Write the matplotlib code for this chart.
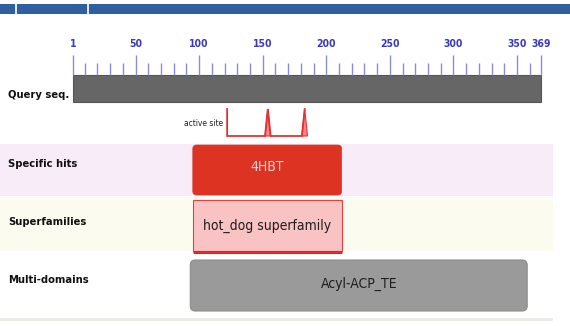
import matplotlib
matplotlib.use("Agg")
import matplotlib.pyplot as plt
from matplotlib.patches import FancyBboxPatch, Rectangle, Polygon
from matplotlib import font_manager
from matplotlib.font_manager import FontProperties

# ---------------- data ----------------
seq_length = 369
major_ticks = [1, 50, 100, 150, 200, 250, 300, 350, 369]
minor_step = 10
row_labels = ["Query seq.", "Specific hits", "Superfamilies", "Multi-domains"]
active_site_residues = [122, 154, 183]
specific_hit_name = "4HBT"
specific_hit_range = [95, 212]
superfamily_name = "hot_dog superfamily"
superfamily_range = [95, 212]
multidomain_name = "Acyl-ACP_TE"
multidomain_range = [93, 358]

# ---------------- font: look for a narrow / condensed face ----------------
def find_font(bold):
    cands = []
    for f in font_manager.fontManager.ttflist:
        path = f.fname.lower()
        name = f.name.lower()
        narrow = ("narrow" in path or "condensed" in path or "narrow" in name
                  or "condensed" in name or str(f.stretch).lower() in ("condensed", "semi-condensed"))
        if not narrow or "oblique" in path or "italic" in path:
            continue
        isbold = "bold" in path or (isinstance(f.weight, int) and f.weight >= 600) or f.weight == "bold"
        if isbold != bold:
            continue
        score = 0
        if "dejavusanscondensed" in path.replace("-", ""):
            score = 3
        if "liberationsansnarrow" in path.replace("-", ""):
            score = 4
        if "mono" in path:
            score -= 5
        cands.append((score, f.fname))
    if cands:
        cands.sort(reverse=True)
        return FontProperties(fname=cands[0][1])
    fp = FontProperties(family="DejaVu Sans")
    if bold:
        fp.set_weight("bold")
    return fp

FP_REG = find_font(False)
FP_BOLD = find_font(True)

def fp(base, size):
    p = base.copy()
    p.set_size(size)
    return p

fig = plt.figure(figsize=(5.70, 3.26), dpi=100)
ax = fig.add_axes([0, 0, 1, 1])
px_per_res = 1.2714
x0_px = 72.03
ax.set_xlim(-x0_px / px_per_res, (570 - x0_px) / px_per_res)
ax.set_ylim(326, 0)
ax.axis("off")

trans_band = ax.get_yaxis_transform()  # x in axes fraction, y in data

# top blue bar
ax.add_patch(Rectangle((0, 4), 1, 10, transform=trans_band, color="#2f5f9f", lw=0))
for gx in [15 / 570, 87 / 570]:
    ax.add_patch(Rectangle((gx, 4), 1.5 / 570, 10, transform=trans_band, color="#dfe8f2", lw=0))

# band backgrounds
ax.add_patch(Rectangle((0, 144), 553 / 570, 52, transform=trans_band, color="#f7ecf7", lw=0))
ax.add_patch(Rectangle((0, 197), 553 / 570, 54, transform=trans_band, color="#fcfbef", lw=0))
ax.add_patch(Rectangle((0, 318), 553 / 570, 3, transform=trans_band, color="#ecece6", lw=0))

# ruler
tick_col = "#8a8ae0"
lab_col = "#3838c0"
minor = [r for r in range(minor_step, seq_length, minor_step) if r % 50 != 0]
ax.vlines(minor, 63, 75, color=tick_col, lw=1.0)
ax.vlines(major_ticks, 55, 75, color=tick_col, lw=1.0)
for t in major_ticks:
    ax.text(t, 44, str(t), ha="center", va="center", color=lab_col,
            fontproperties=fp(FP_BOLD, 7.5))

# query sequence bar
ax.add_patch(Rectangle((1, 75), seq_length - 1, 27, facecolor="#666666",
                       edgecolor="#555555", lw=0.8))

# active site
base_y, top_y = 136, 109
pts = [(active_site_residues[0], top_y), (active_site_residues[0], base_y)]
for r in active_site_residues[1:]:
    if r != active_site_residues[-1]:
        pts += [(r - 2.2, base_y), (r, top_y), (r + 2.2, base_y)]
    else:
        pts += [(r - 2.2, base_y), (r, top_y)]
xs, ys = zip(*pts)
ax.plot(xs, ys, color="#e63030", lw=1.3, solid_joinstyle="miter")
for r in active_site_residues[1:]:
    ax.add_patch(Polygon([(r - 2.2, base_y), (r, top_y), (r + 2.2, base_y)],
                         closed=True, facecolor="#f28a8a", edgecolor="#e63030", lw=0.8))
ax.text(active_site_residues[0] - 3, 124, "active site", ha="right", va="center",
        color="#222222", fontproperties=fp(FP_REG, 6))

# specific hit
s0, s1 = specific_hit_range
ax.add_patch(FancyBboxPatch((s0, 145), s1 - s0, 50,
                            boxstyle="round,pad=0,rounding_size=3",
                            mutation_aspect=px_per_res,
                            facecolor="#dc3323", edgecolor="#dc3323", lw=0.5))
ax.text((s0 + s1) / 2, 167, specific_hit_name, ha="center", va="center",
        color="#f6d4d0", fontproperties=fp(FP_REG, 10))

# superfamily
f0, f1 = superfamily_range
ax.add_patch(Rectangle((f0, 200), f1 - f0, 51, facecolor="#f9c3c3",
                       edgecolor="#e84040", lw=0.8))
ax.plot([f0, f1], [251.5, 251.5], color="#e02828", lw=2.2, solid_capstyle="butt")
ax.text((f0 + f1) / 2, 226, superfamily_name, ha="center", va="center",
        color="#1e1e1e", fontproperties=fp(FP_REG, 10))

# multi-domain
m0, m1 = multidomain_range
ax.add_patch(FancyBboxPatch((m0, 260), m1 - m0, 51,
                            boxstyle="round,pad=0,rounding_size=4",
                            mutation_aspect=px_per_res,
                            facecolor="#9a9a9a", edgecolor="#8c8c8c", lw=0.8))
ax.text((m0 + m1) / 2, 284, multidomain_name, ha="center", va="center",
        color="#1e1e1e", fontproperties=fp(FP_REG, 10))

# row labels
row_y = [95, 164, 222, 280]
for lab, y in zip(row_labels, row_y):
    ax.text(0.014, y, lab, transform=trans_band, ha="left", va="center",
            color="#111111", fontproperties=fp(FP_BOLD, 8))

fig.savefig("out.png", dpi=100)
